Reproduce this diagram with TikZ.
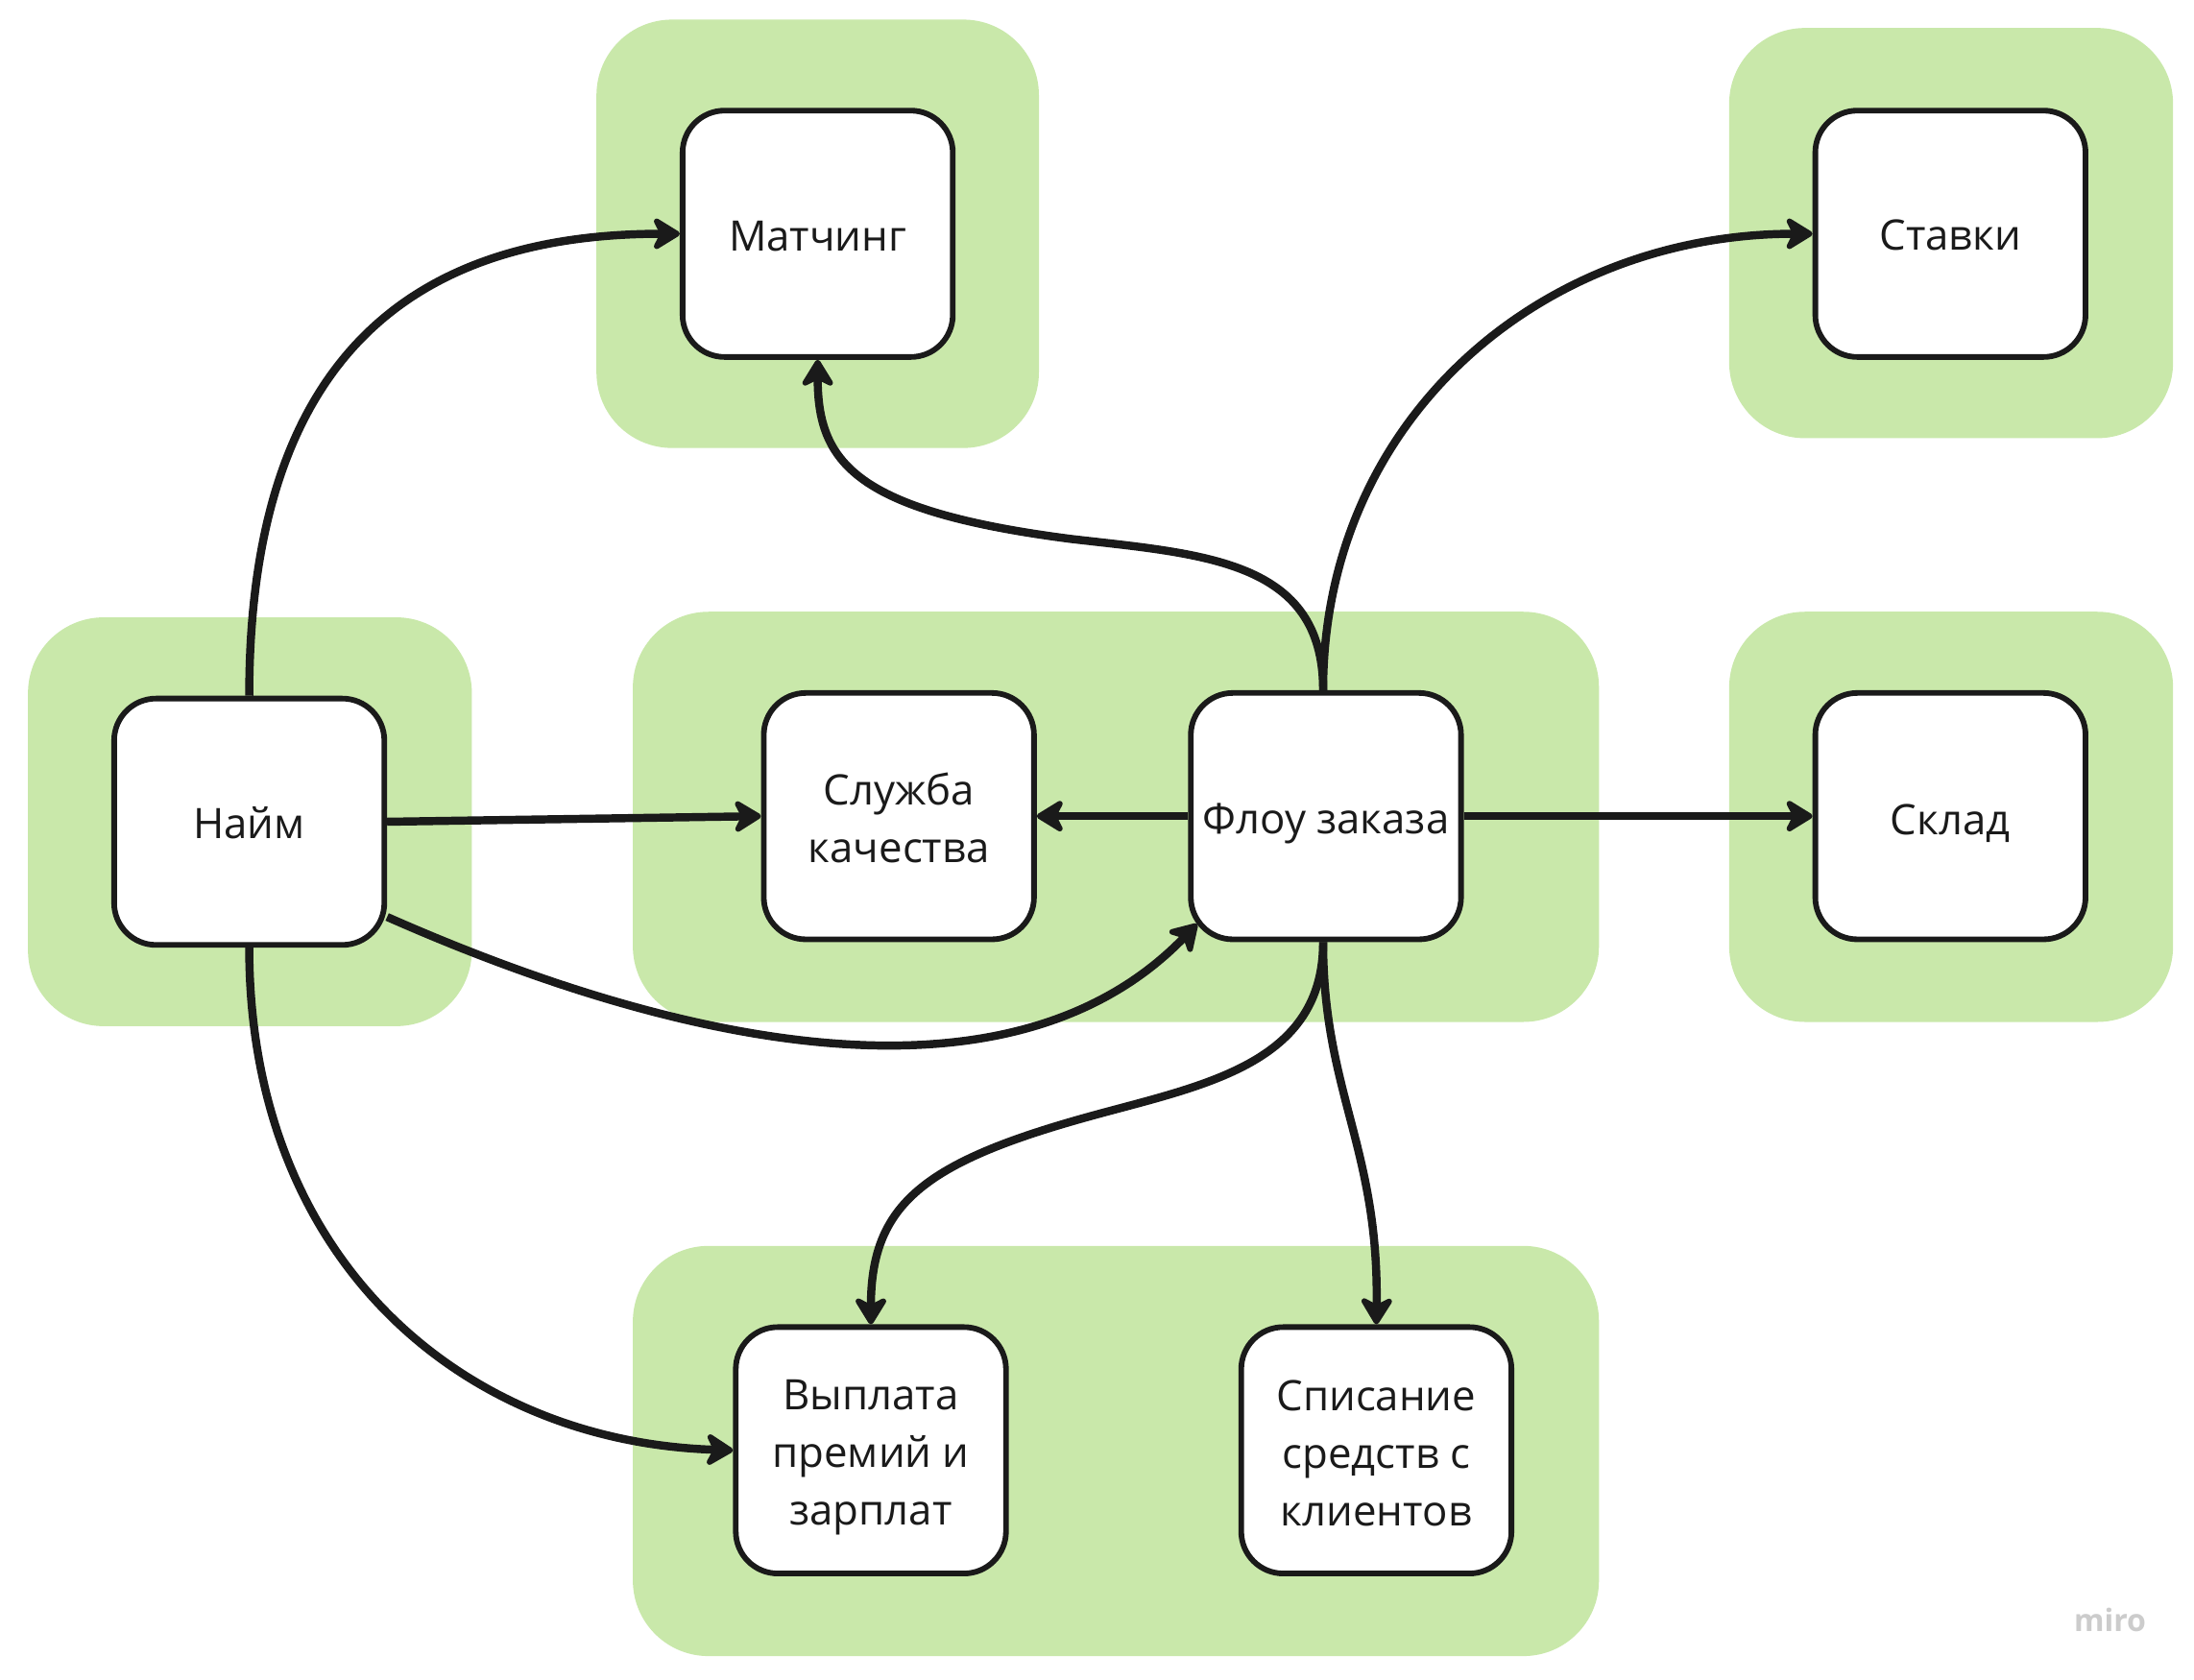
\documentclass[tikz,border=0pt]{standalone}
\usepackage{fontspec}
\setmainfont{Open Sans}
\usetikzlibrary{arrows.meta}
\definecolor{grn}{HTML}{C9E8AA}
\definecolor{ink}{HTML}{1A1A1A}
\begin{document}
\begin{tikzpicture}[x=0.5pt,y=-0.5pt,
  zone/.style={fill=grn,draw=none,rounded corners=27pt},
  blk/.style={draw=ink,line width=2pt,fill=white,rounded corners=15pt,
    minimum width=96.5pt,minimum height=88pt,inner sep=0pt},
  txt/.style={align=center,text=ink,font=\fontsize{15}{20.5}\selectfont,inner sep=0pt},
  conn/.style={draw=ink,line width=2.9pt,-{Stealth[length=11.5pt,width=14pt,inset=3.5pt,round]}}]
\useasboundingbox (0,0) rectangle (1567,1200);
\fill[white] (0,0) rectangle (1567,1200);
% zones
\fill[zone] (426,14) rectangle (742,320);
\fill[zone] (1235,20) rectangle (1552,313);
\fill[zone] (20,441) rectangle (337,733);
\fill[zone] (452,437) rectangle (1142,730);
\fill[zone] (1235,437) rectangle (1552,730);
\fill[zone] (452,890) rectangle (1142,1183);
% boxes
\node[blk] (match) at (584,167) {};
\node[blk] (stav) at (1393,167) {};
\node[blk] (naim) at (178,587) {};
\node[blk] (qual) at (642,583) {};
\node[blk] (flow) at (947,583) {};
\node[blk] (sklad) at (1393,583) {};
\node[blk] (pay) at (622,1036) {};
\node[blk] (spis) at (983,1036) {};
% texts
\node[txt,yshift=-1pt] (matchT) at (match) {Матчинг};
\node[txt,yshift=-0.5pt] (stavT) at (stav) {Ставки};
\node[txt,yshift=-0.5pt] (naimT) at (naim) {Найм};
\node[txt,yshift=-0.75pt] (qualT) at (qual) {Служба\\качества};
\node[txt,yshift=-2.5pt] (flowT) at (flow) {Флоу заказа};
\node[txt,yshift=-2.5pt] (skladT) at (sklad) {Склад};
\node[txt,yshift=-2.5pt] (payT) at (pay) {Выплата\\премий и\\зарплат};
\node[txt,yshift=-1pt] (spisT) at (spis) {Списание\\средств с\\клиентов};
\coordinate (naimR2) at ([yshift=-34pt]naim.east);
\coordinate (flowBL) at (855,660);
% connectors
\draw[conn] (naim.north) .. controls (178,250) and (300,167) .. (match.west);
\draw[conn] ([xshift=-1pt]flow.north) .. controls (945,400) and (860,396) .. (765,385) .. controls (610,365) and (584,330) .. (match.south);
\draw[conn] ([xshift=-1pt]flow.north) .. controls (945,300) and (1100,167) .. (stav.west);
\draw[conn] (naim.east) -- (qual.west);
\draw[conn] (flow.west) -- (qual.east);
\draw[conn] (flow.east) -- (sklad.west);
\draw[conn] (naimR2) .. controls (480,745) and (720,800) .. (flowBL);
\draw[conn] (naim.south) .. controls (178,900) and (330,1030) .. (pay.west);
\draw[conn] ([xshift=-1pt]flow.south) .. controls (945,760) and (860,775) .. (780,797) .. controls (660,830) and (622,860) .. (pay.north);
\draw[conn] ([xshift=-1pt]flow.south) .. controls (945,780) and (985,820) .. (spis.north);
\node[text=black!20,font=\fontsize{11}{12}\selectfont\bfseries] (miro) at (1507,1157) {miro};
\end{tikzpicture}
\end{document}
